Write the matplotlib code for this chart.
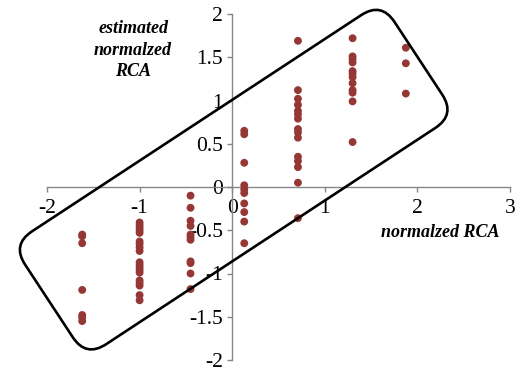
import numpy as np
import matplotlib
matplotlib.use("Agg")
import matplotlib.pyplot as plt
from matplotlib.patches import FancyBboxPatch
from matplotlib.ticker import FuncFormatter
import matplotlib.transforms as mtransforms

plt.rcParams['font.family'] = ['Liberation Serif', 'DejaVu Serif']
plt.rcParams['axes.unicode_minus'] = False

# normalized RCA (x) and estimated normalized RCA (y), grouped by column
col_x = [-1.62, -1.0, -0.45, 0.13, 0.71, 1.30, 1.875]
col_y = [
    [-0.55, -0.57, -0.65, -1.19, -1.48, -1.51, -1.55],
    [-0.41, -0.44, -0.47, -0.50, -0.53, -0.63, -0.66, -0.70, -0.74,
     -0.87, -0.90, -0.93, -0.96, -0.99, -1.08, -1.11, -1.14, -1.25, -1.31],
    [-0.10, -0.24, -0.39, -0.45, -0.55, -0.58, -0.61, -0.86, -0.88, -1.00, -1.18],
    [0.65, 0.61, 0.28, 0.02, -0.03, -0.07, -0.19, -0.29, -0.40, -0.65],
    [1.69, 1.12, 1.02, 0.95, 0.88, 0.84, 0.79, 0.67, 0.63, 0.57,
     0.35, 0.30, 0.23, 0.05, -0.36],
    [1.72, 1.51, 1.48, 1.44, 1.34, 1.31, 1.27, 1.20, 1.12, 1.09, 0.99, 0.52],
    [1.61, 1.43, 1.08],
]
x_ticks = [-2, -1, 0, 1, 2, 3]
y_ticks = [-2, -1.5, -1, -0.5, 0, 0.5, 1, 1.5, 2]

xs = np.concatenate([[cx] * len(ys) for cx, ys in zip(col_x, col_y)])
ys = np.concatenate(col_y)

fig = plt.figure(figsize=(5.18, 3.71), dpi=100)
ax = fig.add_axes([47 / 518, 11 / 371, 463 / 518, 346 / 371])
ax.set_xlim(-2, 3)
ax.set_ylim(-2, 2)

ax.scatter(xs, ys, s=32, color='#953735', edgecolors='none', zorder=3)

# excel-like axes crossing at zero
grey = '#868686'
for side in ['top', 'right']:
    ax.spines[side].set_visible(False)
ax.spines['left'].set_position(('data', 0))
ax.spines['bottom'].set_position(('data', 0))
for side in ['left', 'bottom']:
    ax.spines[side].set_color(grey)
    ax.spines[side].set_linewidth(1.0)
ax.set_xticks(x_ticks)
ax.set_yticks(y_ticks)
fmt = FuncFormatter(lambda v, p: '%g' % v)
ax.xaxis.set_major_formatter(fmt)
ax.yaxis.set_major_formatter(fmt)
ax.tick_params(axis='both', direction='out', length=3.6, width=1.0, color=grey,
               labelsize=15.5, labelcolor='black')
ax.tick_params(axis='x', pad=5.0)
ax.tick_params(axis='y', pad=3.0)
ax.patch.set_alpha(0)

ax.text(-1.07, 1.58, 'estimated\nnormalzed\nRCA', ha='center', va='center',
        fontsize=13, fontweight='bold', fontstyle='italic', linespacing=1.35)
ax.text(2.25, -0.53, 'normalzed RCA', ha='center', va='center',
        fontsize=13, fontweight='bold', fontstyle='italic')

# rounded box drawn around the diagonal band
cx, cy = ax.transData.transform((0.016, 0.085))
L, W = 442, 135
box = FancyBboxPatch((cx - L / 2, cy - W / 2), L, W,
                     boxstyle='round,pad=0,rounding_size=24',
                     facecolor='none', edgecolor='black', linewidth=1.9,
                     transform=mtransforms.Affine2D().rotate_deg_around(cx, cy, 33.3))
fig.add_artist(box)

fig.savefig('out.png', dpi=100)
